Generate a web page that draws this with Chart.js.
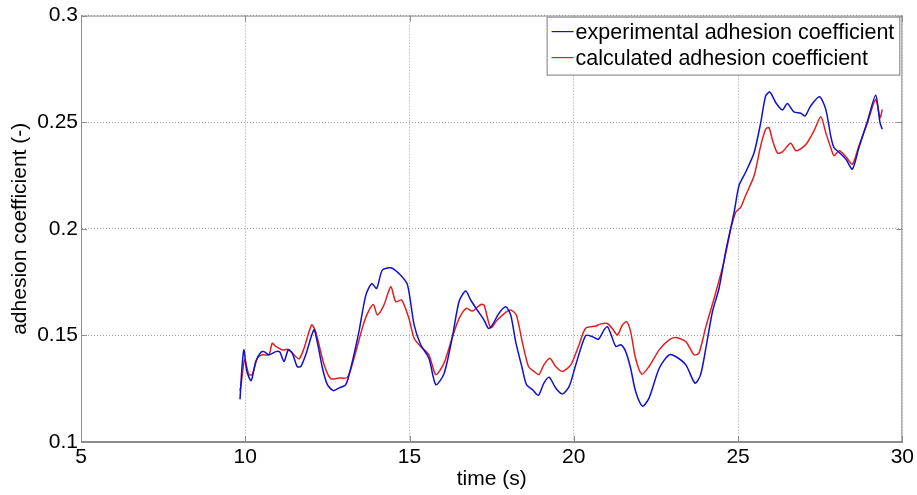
<!DOCTYPE html>
<html>
<head>
<meta charset="utf-8">
<script src="https://cdn.jsdelivr.net/npm/chart.js@4"></script>
<style>
  html, body { margin: 0; padding: 0; background: #fff; }
  #wrap { width: 917px; height: 495px; }
</style>
</head>
<body>
<div id="wrap"><canvas id="chart" width="917" height="495"></canvas></div>
<script>
// experimental adhesion coefficient (blue)
const expTime = [9.84, 9.90, 9.96, 10.05, 10.18, 10.32, 10.47, 10.57, 10.72, 10.93, 11.05, 11.18, 11.31, 11.43,
  11.58, 11.69, 11.84, 12.09, 12.19, 12.35, 12.5, 12.68, 12.85, 13.06, 13.21, 13.46, 13.67, 13.85, 14.0, 14.17,
  14.43, 14.73, 14.94, 15.14, 15.34, 15.59, 15.8, 16.05, 16.3, 16.51, 16.71, 16.86, 17.06, 17.27, 17.4, 17.52,
  17.72, 17.93, 18.08, 18.23, 18.43, 18.56, 18.74, 18.92, 19.09, 19.25, 19.45, 19.65, 19.86, 20.06, 20.36, 20.57,
  20.75, 20.92, 21.02, 21.12, 21.28, 21.43, 21.58, 21.73, 21.88, 22.09, 22.29, 22.6, 22.9, 23.1, 23.41, 23.69,
  23.86, 24.02, 24.22, 24.42, 24.62, 24.88, 25.03, 25.23, 25.49, 25.69, 25.84, 25.97, 26.15, 26.35, 26.5, 26.7,
  26.91, 27.04, 27.21, 27.48, 27.67, 27.82, 27.92, 28.08, 28.28, 28.48, 28.68, 28.94, 29.19, 29.32, 29.39];
const expValue = [0.120, 0.135, 0.1432, 0.133, 0.1288, 0.1378, 0.142, 0.1424, 0.1409, 0.1424, 0.1422, 0.1378, 0.1432, 0.1417,
  0.1354, 0.1354, 0.1409, 0.1526, 0.1471, 0.1346, 0.1269, 0.1241, 0.1253, 0.1269, 0.1346, 0.1518, 0.1689, 0.1743, 0.172, 0.1806,
  0.1817, 0.1782, 0.1736, 0.1549, 0.1456, 0.1393, 0.1269, 0.1320, 0.149, 0.166, 0.1708, 0.1666, 0.1619, 0.1572, 0.1533, 0.1549,
  0.1603, 0.1634, 0.1596, 0.1471, 0.1346, 0.1269, 0.1246, 0.1219, 0.1276, 0.1304, 0.1253, 0.1225, 0.1261, 0.1362, 0.1499, 0.1494,
  0.1482, 0.1526, 0.1541, 0.151, 0.1448, 0.1456, 0.1424, 0.1346, 0.1238, 0.1168, 0.1206, 0.1346, 0.1409, 0.1401, 0.1362, 0.1276,
  0.1316, 0.144, 0.1611, 0.172, 0.1891, 0.2078, 0.2203, 0.2265, 0.2358, 0.2498, 0.2623, 0.2641, 0.2591, 0.2557, 0.2588, 0.2548,
  0.2542, 0.2529, 0.2576, 0.2619, 0.256, 0.2436, 0.2381, 0.2358, 0.2327, 0.228, 0.2381, 0.2506, 0.2626, 0.2498, 0.2467];

// calculated adhesion coefficient (red)
const calcTime = [9.84, 9.88, 9.98, 10.11, 10.21, 10.37, 10.52, 10.72, 10.82, 10.93, 11.13, 11.31, 11.48, 11.64, 11.79,
  12.02, 12.14, 12.4, 12.6, 12.85, 13.11, 13.31, 13.56, 13.72, 13.9, 14.02, 14.22, 14.43, 14.58, 14.76, 14.98, 15.14,
  15.34, 15.59, 15.8, 16.05, 16.3, 16.51, 16.73, 16.91, 17.17, 17.27, 17.47, 17.67, 17.93, 18.08, 18.25, 18.43, 18.62,
  18.79, 18.94, 19.09, 19.27, 19.45, 19.65, 19.91, 20.16, 20.36, 20.67, 20.82, 21.02, 21.17, 21.33, 21.48, 21.61, 21.73,
  21.88, 22.07, 22.29, 22.6, 22.9, 23.1, 23.41, 23.66, 23.81, 24.02, 24.27, 24.57, 24.78, 24.93, 25.08, 25.23, 25.49,
  25.69, 25.84, 25.94, 26.04, 26.2, 26.35, 26.6, 26.76, 26.96, 27.11, 27.31, 27.52, 27.67, 27.82, 27.92, 28.08, 28.28,
  28.48, 28.68, 28.94, 29.19, 29.32, 29.39];
const calcValue = [0.124, 0.1276, 0.1386, 0.1316, 0.1316, 0.1393, 0.1409, 0.1409, 0.1463, 0.1448, 0.1432, 0.1434, 0.1409, 0.139, 0.144,
  0.1549, 0.1518, 0.1362, 0.1297, 0.130, 0.1303, 0.1393, 0.1533, 0.1603, 0.1645, 0.1596, 0.1642, 0.1728, 0.1658, 0.1666, 0.158, 0.1487,
  0.1448, 0.1409, 0.1316, 0.1370, 0.149, 0.158, 0.1627, 0.1614, 0.1645, 0.1642, 0.1536, 0.1572, 0.1608, 0.1619, 0.1596, 0.1471, 0.1354,
  0.1331, 0.1316, 0.1362, 0.1393, 0.1354, 0.1331, 0.1362, 0.1456, 0.1533, 0.1544, 0.1554, 0.1556, 0.1533, 0.1502, 0.1549, 0.1564, 0.1518,
  0.1393, 0.1318, 0.1354, 0.1432, 0.1479, 0.149, 0.1471, 0.1409, 0.1417, 0.1541, 0.1673, 0.1845, 0.2, 0.2078, 0.2101, 0.2156, 0.225,
  0.239, 0.2467, 0.2475, 0.242, 0.2355, 0.2361, 0.2401, 0.2366, 0.2381, 0.2405, 0.2459, 0.2526, 0.2451, 0.2381, 0.2343, 0.2366, 0.2339,
  0.2303, 0.239, 0.2498, 0.2607, 0.2521, 0.256];

const xTicks = [5, 10, 15, 20, 25, 30];
const yTicks = [0.1, 0.15, 0.2, 0.25, 0.3];
const seriesLabels = ["experimental adhesion coefficient", "calculated adhesion coefficient"];

const FONT = "'Liberation Sans', Arial, sans-serif";
const FONT_SIZE = 21;
const LEGEND_SIZE = 21.5;
const BLUE = "#1010d0";
const RED = "#e02020";
const AXIS_GREY = "#8c8c8c";
const GRID_GREY = "#a0a0a0";

const toPoints = (xs, ys) => xs.map((x, i) => ({ x, y: ys[i] }));

// box round the plot area, inward tick marks, and the inset legend
const boxAndLegend = {
  id: "boxAndLegend",
  afterDatasetsDraw(chart) {
    const { ctx, chartArea: a, scales } = chart;
    ctx.save();
    ctx.strokeStyle = AXIS_GREY;
    ctx.lineWidth = 1;
    ctx.strokeRect(a.left + 0.5, a.top + 0.5, a.right - a.left - 1, a.bottom - a.top - 1);

    // small inward ticks, MATLAB style
    const tickLen = 6;
    ctx.beginPath();
    xTicks.forEach(v => {
      const px = Math.round(scales.x.getPixelForValue(v)) + 0.5;
      ctx.moveTo(px, a.bottom); ctx.lineTo(px, a.bottom - tickLen);
      ctx.moveTo(px, a.top); ctx.lineTo(px, a.top + tickLen);
    });
    yTicks.forEach(v => {
      const py = Math.round(scales.y.getPixelForValue(v)) + 0.5;
      ctx.moveTo(a.left, py); ctx.lineTo(a.left + tickLen, py);
      ctx.moveTo(a.right, py); ctx.lineTo(a.right - tickLen, py);
    });
    ctx.stroke();

    ctx.font = LEGEND_SIZE + "px " + FONT;
    const textW = Math.max(...seriesLabels.map(s => ctx.measureText(s).width));
    const right = a.right - 2, top = a.top + 1;
    const w = textW + 35, h = 59;
    const left = right - w;
    ctx.fillStyle = "#fff";
    ctx.fillRect(left, top, w, h);
    ctx.strokeStyle = "#7a7a7a";
    ctx.strokeRect(left + 0.5, top + 0.5, w - 1, h - 1);

    const colors = [BLUE, RED];
    ctx.textBaseline = "middle";
    seriesLabels.forEach((s, i) => {
      const y = top + 15 + i * 26;
      ctx.strokeStyle = colors[i];
      ctx.lineWidth = 1.2;
      ctx.beginPath();
      ctx.moveTo(left + 5, y);
      ctx.lineTo(left + 27, y);
      ctx.stroke();
      ctx.fillStyle = "#000";
      ctx.fillText(s, left + 29, y + 1);
    });
    ctx.restore();
  }
};

new Chart(document.getElementById("chart"), {
  type: "line",
  data: {
    datasets: [
      {
        label: seriesLabels[0],
        data: toPoints(expTime, expValue),
        borderColor: BLUE,
        borderWidth: 1.5,
        pointRadius: 0,
        tension: 0.25,
        fill: false
      },
      {
        label: seriesLabels[1],
        data: toPoints(calcTime, calcValue),
        borderColor: RED,
        borderWidth: 1.5,
        pointRadius: 0,
        tension: 0.25,
        fill: false
      }
    ]
  },
  options: {
    responsive: false,
    animation: false,
    layout: { padding: { top: 12, right: 14, left: 0, bottom: 0 } },
    plugins: {
      legend: { display: false },
      tooltip: { enabled: false }
    },
    scales: {
      x: {
        type: "linear",
        min: 5,
        max: 30,
        afterBuildTicks: scale => { scale.ticks = xTicks.map(v => ({ value: v })); },
        afterFit: scale => { scale.height = 53; },
        grid: { color: GRID_GREY, drawTicks: false },
        border: { color: AXIS_GREY, dash: [1, 2] },
        ticks: { color: "#000", padding: 3, font: { family: FONT, size: FONT_SIZE } },
        title: { display: true, text: "time (s)", color: "#000", padding: { top: 0, bottom: 3 }, font: { family: FONT, size: FONT_SIZE } }
      },
      y: {
        type: "linear",
        min: 0.1,
        max: 0.3,
        afterBuildTicks: scale => { scale.ticks = yTicks.map(v => ({ value: v })); },
        afterFit: scale => { scale.width = 81; },
        grid: { color: GRID_GREY, drawTicks: false },
        border: { color: AXIS_GREY, dash: [1, 2] },
        ticks: { color: "#000", padding: 3, font: { family: FONT, size: FONT_SIZE }, callback: v => String(+v.toFixed(2)) },
        title: { display: true, text: "adhesion coefficient (-)", color: "#000", padding: { top: 8, bottom: 0 }, font: { family: FONT, size: FONT_SIZE } }
      }
    }
  },
  plugins: [boxAndLegend]
});
</script>
</body>
</html>
